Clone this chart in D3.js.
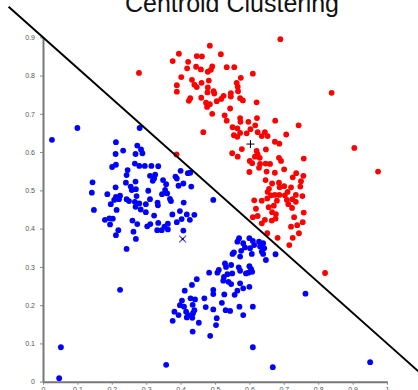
<!DOCTYPE html>
<html>
<head>
<meta charset="utf-8">
<script src="https://cdnjs.cloudflare.com/ajax/libs/d3/7.8.5/d3.min.js"></script>
<style>
    html, body { margin: 0; padding: 0; background: #fff; overflow: hidden; }
    #chart { width: 418px; height: 390px; }
    .tick text { font-family: 'Liberation Sans', Arial, sans-serif; font-size: 7px; fill: #555; }
</style>
</head>
<body>
<div id="chart"></div>
<script>
// Chart data
const chartTitle = 'Centroid Clustering';
const xTicks = [0, 0.1, 0.2, 0.3, 0.4, 0.5, 0.6, 0.7, 0.8, 0.9, 1];
const yTicks = [0, 0.1, 0.2, 0.3, 0.4, 0.5, 0.6, 0.7, 0.8, 0.9];

const redPoints = [
    [0.485,0.878],[0.395,0.857],[0.377,0.838],[0.447,0.851],[0.462,0.850],[0.517,0.856],[0.422,0.836],[0.419,0.819],
    [0.445,0.823],[0.459,0.816],[0.479,0.810],[0.492,0.824],[0.488,0.815],[0.534,0.822],[0.556,0.822],[0.610,0.805],
    [0.402,0.796],[0.433,0.789],[0.440,0.776],[0.447,0.770],[0.461,0.781],[0.482,0.787],[0.479,0.769],[0.389,0.775],
    [0.389,0.758],[0.496,0.759],[0.498,0.753],[0.478,0.756],[0.563,0.781],[0.575,0.794],[0.566,0.771],[0.567,0.759],
    [0.546,0.754],[0.546,0.745],[0.525,0.747],[0.518,0.739],[0.505,0.733],[0.460,0.742],[0.428,0.741],[0.424,0.734],
    [0.474,0.729],[0.477,0.718],[0.485,0.725],[0.573,0.741],[0.581,0.735],[0.621,0.730],[0.544,0.714],[0.492,0.700],
    [0.528,0.696],[0.534,0.682],[0.573,0.689],[0.574,0.679],[0.551,0.665],[0.565,0.662],[0.597,0.679],[0.622,0.689],
    [0.617,0.670],[0.603,0.660],[0.466,0.652],[0.555,0.644],[0.573,0.650],[0.624,0.652],[0.645,0.652],
    [0.675,0.682],[0.743,0.670],[0.565,0.640],[0.592,0.649],[0.636,0.642],[0.653,0.642],[0.707,0.646],[0.674,0.627],
    [0.687,0.622],[0.550,0.597],[0.566,0.588],[0.578,0.608],[0.621,0.603],[0.624,0.594],[0.616,0.588],[0.630,0.585],
    [0.601,0.577],[0.608,0.571],[0.631,0.569],[0.647,0.570],[0.660,0.569],[0.648,0.607],[0.686,0.585],[0.692,0.577],
    [0.701,0.555],[0.758,0.583],[0.600,0.548],[0.628,0.559],[0.650,0.549],[0.674,0.546],[0.736,0.545],[0.757,0.538],
    [0.750,0.524],[0.726,0.534],[0.647,0.527],[0.666,0.518],[0.686,0.520],[0.688,0.508],[0.701,0.511],[0.721,0.508],
    [0.711,0.496],[0.748,0.510],[0.657,0.504],[0.653,0.496],[0.663,0.487],[0.674,0.488],[0.687,0.488],[0.703,0.487],
    [0.735,0.488],[0.754,0.485],[0.614,0.474],[0.636,0.473],[0.652,0.479],[0.680,0.473],[0.709,0.475],[0.725,0.477],
    [0.735,0.470],[0.713,0.464],[0.656,0.456],[0.671,0.460],[0.619,0.452],[0.724,0.454],[0.758,0.442],[0.666,0.443],
    [0.677,0.438],[0.610,0.430],[0.624,0.433],[0.645,0.423],[0.665,0.421],[0.676,0.426],[0.730,0.430],[0.636,0.414],
    [0.721,0.405],[0.739,0.409],[0.755,0.417],[0.652,0.388],[0.682,0.376],[0.744,0.388],[0.726,0.376],[0.716,0.357],
    [0.690,0.895],[0.839,0.755],[0.905,0.611],[0.974,0.549],[0.388,0.594],[0.820,0.284],[0.279,0.807]
];

const bluePoints = [
    [0.281,0.663],[0.212,0.626],[0.274,0.617],[0.211,0.595],[0.233,0.604],[0.269,0.595],[0.285,0.607],[0.289,0.597],
    [0.212,0.567],[0.201,0.561],[0.267,0.570],[0.280,0.564],[0.296,0.564],[0.315,0.564],[0.335,0.563],[0.246,0.553],
    [0.243,0.540],[0.311,0.538],[0.323,0.531],[0.326,0.541],[0.319,0.525],[0.349,0.527],[0.144,0.521],[0.142,0.494],
    [0.241,0.520],[0.269,0.523],[0.211,0.508],[0.255,0.510],[0.258,0.501],[0.270,0.503],[0.306,0.499],[0.358,0.516],
    [0.355,0.501],[0.361,0.492],[0.346,0.490],[0.385,0.536],[0.400,0.551],[0.389,0.531],[0.408,0.518],[0.394,0.512],
    [0.421,0.545],[0.428,0.546],[0.431,0.510],[0.187,0.490],[0.212,0.483],[0.224,0.486],[0.221,0.477],[0.207,0.475],
    [0.197,0.464],[0.243,0.477],[0.250,0.472],[0.272,0.485],[0.267,0.470],[0.269,0.457],[0.280,0.466],[0.299,0.464],
    [0.311,0.477],[0.333,0.468],[0.334,0.461],[0.369,0.478],[0.372,0.472],[0.409,0.468],[0.148,0.449],[0.214,0.449],
    [0.284,0.450],[0.299,0.443],[0.323,0.434],[0.376,0.437],[0.398,0.446],[0.418,0.437],[0.440,0.436],[0.403,0.425],
    [0.427,0.423],[0.495,0.475],[0.180,0.423],[0.193,0.427],[0.203,0.426],[0.195,0.411],[0.260,0.421],[0.274,0.412],
    [0.303,0.406],[0.312,0.412],[0.335,0.415],[0.363,0.413],[0.353,0.405],[0.363,0.398],[0.389,0.417],[0.332,0.396],
    [0.345,0.396],[0.219,0.396],[0.212,0.383],[0.263,0.392],[0.270,0.373],[0.408,0.395],[0.243,0.347],
    [0.100,0.663],[0.026,0.632],[0.224,0.240],
    [0.570,0.375],[0.565,0.366],[0.582,0.362],[0.600,0.375],[0.610,0.368],[0.587,0.351],[0.576,0.342],[0.602,0.349],
    [0.614,0.357],[0.628,0.366],[0.640,0.362],[0.631,0.353],[0.643,0.349],[0.555,0.338],[0.551,0.334],[0.573,0.327],
    [0.607,0.334],[0.636,0.340],[0.640,0.334],[0.648,0.318],[0.676,0.333],[0.529,0.309],[0.532,0.300],[0.547,0.305],
    [0.511,0.292],[0.507,0.285],[0.483,0.285],[0.569,0.299],[0.573,0.290],[0.590,0.283],[0.600,0.302],[0.605,0.294],
    [0.597,0.285],[0.608,0.287],[0.536,0.281],[0.550,0.283],[0.526,0.274],[0.524,0.264],[0.539,0.261],[0.547,0.255],
    [0.573,0.257],[0.582,0.244],[0.600,0.248],[0.565,0.238],[0.557,0.227],[0.447,0.268],[0.433,0.253],[0.412,0.238],
    [0.495,0.240],[0.495,0.229],[0.527,0.228],[0.429,0.218],[0.442,0.215],[0.469,0.218],[0.404,0.212],[0.398,0.200],
    [0.410,0.196],[0.435,0.201],[0.473,0.195],[0.495,0.189],[0.520,0.206],[0.531,0.187],[0.544,0.185],[0.571,0.196],
    [0.610,0.196],[0.382,0.183],[0.394,0.174],[0.416,0.183],[0.422,0.174],[0.436,0.179],[0.440,0.187],[0.418,0.168],
    [0.434,0.167],[0.377,0.159],[0.453,0.154],[0.505,0.166],[0.582,0.174],[0.503,0.148],[0.435,0.131],[0.486,0.120],
    [0.610,0.090],[0.763,0.230],
    [0.052,0.090],[0.047,0.009],[0.358,0.044],[0.668,0.038],[0.951,0.051]
];

const centroidPlus = [0.603, 0.621];   // red cluster centre
const centroidCross = [0.406, 0.373];  // blue cluster centre
const splitLine = [[-0.1, 0.98], [1.15, -0.02]];  // y = 0.9 - 0.8x

class ClusterChart {
    constructor(container) {
        this.container = container;
        this.width = 418;
        this.height = 390;
        this.render();
    }

    render() {
        const svg = d3.select(this.container).append('svg')
            .attr('width', this.width)
            .attr('height', this.height);

        const x = d3.scaleLinear().domain([0, 1]).range([43, 387]);
        const y = d3.scaleLinear().domain([0, 0.9]).range([381.7, 37.3]);

        // Title (partly cut off at the top, as in the original)
        svg.append('text')
            .attr('x', 232)
            .attr('y', 12)
            .attr('text-anchor', 'middle')
            .style('font-family', "'Liberation Sans', Arial, sans-serif")
            .style('font-size', '25px')
            .style('fill', '#111')
            .text(chartTitle);

        // Axes
        const xAxis = svg.append('g')
            .attr('transform', 'translate(0,381.7)')
            .call(d3.axisBottom(x).tickValues(xTicks).tickSize(3).tickSizeOuter(0)
                .tickPadding(2).tickFormat(d => String(d)));

        const yAxis = svg.append('g')
            .attr('transform', 'translate(43,0)')
            .call(d3.axisLeft(y).tickValues(yTicks).tickSize(3).tickSizeOuter(0)
                .tickPadding(5).tickFormat(d => String(d)));

        [xAxis, yAxis].forEach(a => {
            a.select('.domain').style('stroke', '#777').style('stroke-width', 2);
            a.selectAll('.tick line').style('stroke', '#888');
        });

        // Points
        svg.append('g').selectAll('circle.red')
            .data(redPoints)
            .enter().append('circle')
            .attr('class', 'red')
            .attr('cx', d => x(d[0]))
            .attr('cy', d => y(d[1]))
            .attr('r', 2.9)
            .style('fill', '#ff0000');

        svg.append('g').selectAll('circle.blue')
            .data(bluePoints)
            .enter().append('circle')
            .attr('class', 'blue')
            .attr('cx', d => x(d[0]))
            .attr('cy', d => y(d[1]))
            .attr('r', 2.9)
            .style('fill', '#0000ff');

        // Separating line
        svg.append('path')
            .datum(splitLine)
            .attr('d', d3.line().x(d => x(d[0])).y(d => y(d[1])))
            .style('stroke', '#000')
            .style('stroke-width', 2)
            .style('fill', 'none');

        // Centroid markers
        const px = x(centroidPlus[0]), py = y(centroidPlus[1]);
        svg.append('path')
            .attr('d', `M${px - 4},${py}H${px + 4}M${px},${py - 4}V${py + 4}`)
            .style('stroke', '#000')
            .style('stroke-width', 1);

        const cx = x(centroidCross[0]), cy = y(centroidCross[1]);
        svg.append('path')
            .attr('d', `M${cx - 3.5},${cy - 3.5}L${cx + 3.5},${cy + 3.5}M${cx - 3.5},${cy + 3.5}L${cx + 3.5},${cy - 3.5}`)
            .style('stroke', '#7070f0')
            .style('stroke-width', 1.3);
        svg.append('path')
            .attr('d', `M${cx - 1.5},${cy - 1.5}L${cx + 1.5},${cy + 1.5}M${cx - 1.5},${cy + 1.5}L${cx + 1.5},${cy - 1.5}`)
            .style('stroke', '#000')
            .style('stroke-width', 1);
    }
}

new ClusterChart('#chart');
</script>
</body>
</html>
